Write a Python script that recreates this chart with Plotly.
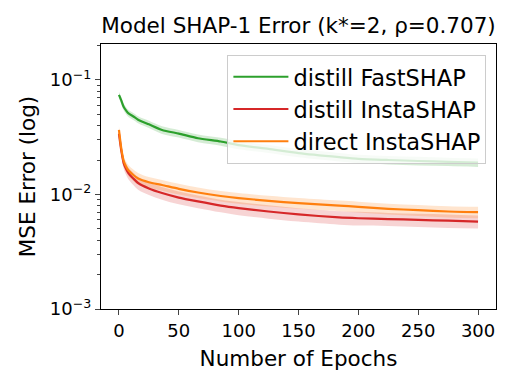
import plotly.graph_objects as go

#-----------------------------------------------------------------------------
# values
EPOCHS = [0, 2, 4, 6, 8, 12, 16, 25, 36, 50, 66, 85, 100, 125, 150, 184, 200, 225, 250, 275, 300]

FASTSHAP_MEAN = [0.074, 0.066, 0.058, 0.054, 0.051, 0.048, 0.045, 0.041, 0.0366, 0.034, 0.031,
                 0.029, 0.027, 0.025, 0.023, 0.0212, 0.0205, 0.0200, 0.0196, 0.0193, 0.0190]
FASTSHAP_STD = [0.005, 0.0045, 0.004, 0.0038, 0.0036, 0.0034, 0.0032, 0.003, 0.0028, 0.0026, 0.0024,
                0.0023, 0.0022, 0.0020, 0.0019, 0.0018, 0.0017, 0.0017, 0.0017, 0.0016, 0.0016]

DISTILL_MEAN = [0.034, 0.024, 0.0187, 0.0167, 0.0153, 0.0138, 0.0126, 0.0113, 0.0103, 0.0094, 0.0087,
                0.0080, 0.0076, 0.0071, 0.0067, 0.0063, 0.0062, 0.0061, 0.0060, 0.0059, 0.0058]
DISTILL_STD = [0.003, 0.0025, 0.002, 0.0019, 0.0018, 0.0017, 0.0016, 0.0014, 0.0013, 0.0012, 0.0011,
               0.0010, 0.0010, 0.00095, 0.0009, 0.00085, 0.00085, 0.0008, 0.0008, 0.0008, 0.00075]

DIRECT_MEAN = [0.0366, 0.025, 0.0195, 0.0175, 0.0162, 0.0148, 0.0138, 0.0128, 0.0121, 0.0112, 0.0104,
               0.0097, 0.0093, 0.0088, 0.0084, 0.0080, 0.0078, 0.0075, 0.0073, 0.0071, 0.0070]
DIRECT_STD = [0.003, 0.0025, 0.002, 0.0019, 0.0018, 0.0017, 0.0016, 0.0014, 0.0013, 0.0012, 0.0011,
              0.0010, 0.0010, 0.00095, 0.0009, 0.00085, 0.00085, 0.0008, 0.0008, 0.0008, 0.0008]

SERIES = [
    ('distill FastSHAP', FASTSHAP_MEAN, FASTSHAP_STD, '#2ca02c', 'rgba(44,160,44,0.2)'),
    ('distill InstaSHAP', DISTILL_MEAN, DISTILL_STD, '#d62728', 'rgba(214,39,40,0.2)'),
    ('direct InstaSHAP', DIRECT_MEAN, DIRECT_STD, '#ff7f0e', 'rgba(255,127,14,0.2)'),
]

Y_TICKS = [1e-3, 1e-2, 1e-1]
Y_TICKTEXT = ['10<sup>\u22123</sup>', '10<sup>\u22122</sup>', '10<sup>\u22121</sup>']
X_TICKS = [0, 50, 100, 150, 200, 250, 300]

FONT = 'DejaVu Sans'

#-----------------------------------------------------------------------------
fig = go.Figure()

for name, mean, std, color, fill in SERIES:
    lower = [m - s for m, s in zip(mean, std)]
    upper = [m + s for m, s in zip(mean, std)]
    fig.add_trace(go.Scatter(x=EPOCHS, y=lower, mode='lines', line=dict(width=0, shape='spline'),
                             showlegend=False, hoverinfo='skip'))
    fig.add_trace(go.Scatter(x=EPOCHS, y=upper, mode='lines', line=dict(width=0, shape='spline'),
                             fill='tonexty', fillcolor=fill, showlegend=False, hoverinfo='skip'))

for name, mean, std, color, fill in SERIES:
    fig.add_trace(go.Scatter(x=EPOCHS, y=mean, mode='lines', name=name,
                             line=dict(color=color, width=2.2, shape='spline', smoothing=0.6)))

fig.update_layout(
    width=515, height=386,
    margin=dict(l=101, r=19, t=44, b=77, autoexpand=False),
    paper_bgcolor='white', plot_bgcolor='white',
    font=dict(family=FONT, size=18, color='black'),
    title=dict(text='Model SHAP-1 Error (k*=2, \u03c1=0.707)', font=dict(size=21.5),
               x=0.5, xref='paper', xanchor='center',
               y=1 - 25 / 386, yref='container', yanchor='middle'),
    legend=dict(x=0.32, y=0.96, xanchor='left', yanchor='top', traceorder='normal',
                bgcolor='rgba(255,255,255,0.8)', bordercolor='#cccccc', borderwidth=1,
                font=dict(size=22.5), itemwidth=55),
    showlegend=True,
)

fig.update_xaxes(
    range=[-15, 315], tickvals=X_TICKS, ticks='outside', ticklen=5, tickwidth=1.2,
    showline=True, linecolor='black', linewidth=1.2, mirror=True, showgrid=False, zeroline=False,
    automargin=False,
    title=dict(text='Number of Epochs', font=dict(size=21.5), standoff=11),
)
fig.update_yaxes(
    type='log', range=[-3, -0.686], tickvals=Y_TICKS, ticktext=Y_TICKTEXT,
    ticks='outside', ticklen=5, tickwidth=1.2,
    minor=dict(ticks='outside', ticklen=3, tickwidth=1,
               tickvals=[2e-3, 3e-3, 4e-3, 5e-3, 6e-3, 7e-3, 8e-3, 9e-3,
                         2e-2, 3e-2, 4e-2, 5e-2, 6e-2, 7e-2, 8e-2, 9e-2, 2e-1]),
    showline=True, linecolor='black', linewidth=1.2, mirror=True, showgrid=False, zeroline=False,
    automargin=False,
    title=dict(text='MSE Error (log)', font=dict(size=21.5), standoff=8),
)

# drop the default page margin so the figure sits at the window's top-left corner
fig.write_html('out.html', config={'displayModeBar': False},
               post_script="document.body.style.margin='0';")
